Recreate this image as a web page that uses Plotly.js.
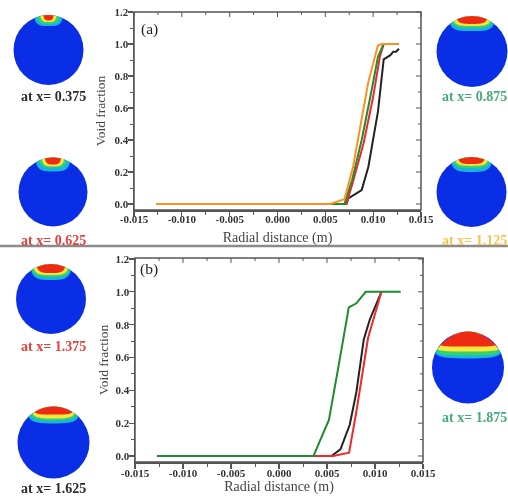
<!DOCTYPE html>
<html><head><meta charset="utf-8">
<script src="https://cdn.plot.ly/plotly-3.0.1.min.js"></script>
<style>html,body{margin:0;padding:0;background:#fff}#c{width:508px;height:500px;filter:blur(0.45px)}</style>
</head><body><div id="c"></div>
<script>
// Panel (a)
const a_black_x=[-0.0127,0.0072,0.0074,0.0088,0.0095,0.0100,0.0105,0.0111,0.0118,0.0121,0.0124,0.0127];
const a_black_y=[0,0,0.035,0.0875,0.233,0.42,0.577,0.904,0.93,0.952,0.952,0.97];
const a_red_x=[-0.0127,0.0072,0.0078,0.0090,0.0100,0.0107,0.0111,0.0113];
const a_red_y=[0,0,0.12,0.38,0.67,0.92,1,1];
const a_green_x=[-0.0127,0.0055,0.0070,0.0078,0.0088,0.0099,0.0105,0.0111,0.0113];
const a_green_y=[0,0,0,0.15,0.40,0.73,0.92,1,1];
const a_orange_x=[-0.0127,0.0055,0.0070,0.0079,0.0095,0.0105,0.0109,0.0127];
const a_orange_y=[0,0,0.03,0.233,0.765,0.99,1,1];
// Panel (b)
const b_black_x=[-0.0127,0.00546,0.0064,0.00737,0.00806,0.00883,0.00945,0.01067];
const b_black_y=[0,0,0.04,0.19,0.39,0.71,0.83,1];
const b_red_x=[-0.0127,0.00564,0.0073,0.00806,0.00928,0.0098,0.01067];
const b_red_y=[0,0,0.02,0.27,0.72,0.83,1];
const b_green_x=[-0.0127,0.0036,0.00425,0.0052,0.00616,0.00727,0.00806,0.00903,0.01268];
const b_green_y=[0,0,0.09,0.22,0.534,0.905,0.93,1,1];
// Cross-section labels
const diskLabels=['at x= 0.375','at x= 0.625','at x= 0.875','at x= 1.125','at x= 1.375','at x= 1.625','at x= 1.875'];
const labelColors=['#2b2b2b','#e0403a','#45ab78','#f4c453','#e8403a','#2b2b2b','#45ab78'];
const labelX=[53,53,474.5,474.5,53,53,474.5];
const labelY=[97,240,97,240,346,488,417];
const diskCx=[48.5,53,472,471.5,51,53.5,468];
const diskCy=[50,192,51.5,192,299,442.5,367.5];
const diskR=[35,34.5,35.5,35,35,36,36];
// Contour bands per disk: half-widths and depths below the top, outer band first
const bandColors=['#19b4dc','#35d070','#f5e83a','#ee2a12'];
const bandHalf=[[14,11,8,5],[17,14,11,8],[22,20,18,15],[20,18,16,13],[20,19,17,14],[25,23,21,19],[33,32,31,28]];
const bandDepth=[[11,9,7,5.5],[14,10,9,7],[15,12,10,8],[15,11,9,7],[16,13,11,9],[17,14,12,8],[27,24,20,15]];
const xTicks=[-0.015,-0.010,-0.005,0,0.005,0.010,0.015];
const xTickText=['-0.015','-0.010','-0.005','0.000','0.005','0.010','0.015'];
const yTicks=[0,0.2,0.4,0.6,0.8,1.0,1.2];
const yTickText=['0.0','0.2','0.4','0.6','0.8','1.0','1.2'];
const cBlack='#222222',cRed='#f0282a',cGreen='#1f8a2e',cOrange='#ff9020';

const W=508,H=500,px=x=>x/W,py=y=>1-y/H;
const serif='"Liberation Serif","Times New Roman",serif';
const frame='#555555';
const tickF={family:serif,size:11,color:'#333333',weight:700};
function mainX(d,anchor,standoff,lab){return {domain:d,range:[-0.015,0.015],anchor,tickmode:'array',tickvals:xTicks,ticktext:xTickText,ticks:'outside',ticklen:5,tickwidth:1.2,tickcolor:frame,ticklabelstandoff:lab,
  minor:{dtick:0.0025,ticks:'outside',ticklen:3,tickcolor:frame,tickwidth:1},showgrid:false,zeroline:false,showline:true,linecolor:frame,linewidth:1.5,tickfont:tickF,
  title:{text:'Radial distance (m)',font:{family:serif,size:14,color:'#444444'},standoff}};}
function mainY(d,anchor,range,standoff){return {domain:d,range,anchor,tickmode:'array',tickvals:yTicks,ticktext:yTickText,ticks:'outside',ticklen:5,tickwidth:1.2,tickcolor:frame,ticklabelstandoff:-3,
  minor:{dtick:0.1,ticks:'outside',ticklen:3,tickcolor:frame,tickwidth:1},showgrid:false,zeroline:false,showline:true,linecolor:frame,linewidth:1.5,tickfont:tickF,
  title:{text:'Void fraction',font:{family:serif,size:13.5,color:'#444444'},standoff}};}
function line(x,y,color,xa,ya){return {type:'scatter',mode:'lines',x,y,xaxis:xa,yaxis:ya,line:{color,width:2},hoverinfo:'skip',showlegend:false};}
const traces=[
 line(a_black_x,a_black_y,cBlack,'x','y'),line(a_red_x,a_red_y,cRed,'x','y'),line(a_green_x,a_green_y,cGreen,'x','y'),line(a_orange_x,a_orange_y,cOrange,'x','y'),
 line(b_black_x,b_black_y,cBlack,'x2','y2'),line(b_red_x,b_red_y,cRed,'x2','y2'),line(b_green_x,b_green_y,cGreen,'x2','y2')
];
const aDX=[px(134),px(421)],aDY=[py(210),py(12)],bDX=[px(135),px(423)],bDY=[py(462),py(258)];
const rangeA=[-0.0375,1.2],rangeB=[-0.0366,1.206];
function sideBox(x0,x1,y0,y1){
  return {type:'rect',xref:'paper',yref:'paper',x0:px(x0),x1:px(x1),y0:py(y0),y1:py(y1),line:{color:frame,width:1.5},layer:'above'};
}
const shapes=[sideBox(134,421,12,210),sideBox(135,423,258,462),
 {type:'line',xref:'paper',yref:'paper',x0:0,x1:1,y0:py(246),y1:py(246),line:{color:'#8a8a8a',width:2.5}}];
function innerTicks(xv,yv,x0,x1,y0,y1,yr){
  const sx=v=>x0+(v+0.015)/0.03*(x1-x0),sy=v=>y1-(v-yr[0])/(yr[1]-yr[0])*(y1-y0);
  xv.forEach((v,i)=>{const L=i%2==0?5:3;shapes.push({type:'line',xref:'paper',yref:'paper',x0:px(sx(v)),x1:px(sx(v)),y0:py(y0),y1:py(y0+L),line:{color:frame,width:1}})});
  yv.forEach((v,i)=>{const L=i%2==0?5:3;shapes.push({type:'line',xref:'paper',yref:'paper',x0:px(x1),x1:px(x1-L),y0:py(sy(v)),y1:py(sy(v)),line:{color:frame,width:1}})});
}
const xAll=[],yAll=[];
for(let i=0;i<=12;i++)xAll.push(-0.015+i*0.0025);
for(let i=0;i<=12;i++)yAll.push(i*0.1);
innerTicks(xAll,yAll,134,421,12,210,rangeA);
innerTicks(xAll,yAll,135,423,258,462,rangeB);
// disks
diskCx.forEach((cx,i)=>{
  const cy=diskCy[i],r=diskR[i];
  shapes.push({type:'circle',xref:'paper',yref:'paper',x0:px(cx-r),x1:px(cx+r),y0:py(cy-r),y1:py(cy+r),fillcolor:'#0a2ee6',line:{width:0}});
  const top=cy-r;
  bandHalf[i].forEach((w,j)=>{
    const chord=cy-Math.sqrt(r*r-w*w),bot=top+bandDepth[i][j];
    const P=(x,y)=>px(x).toFixed(5)+','+py(y).toFixed(5);
    const path='M'+P(cx-w,chord)
      +' C'+P(cx-w*0.9,bot)+' '+P(cx-w*0.5,bot)+' '+P(cx,bot)
      +' C'+P(cx+w*0.5,bot)+' '+P(cx+w*0.9,bot)+' '+P(cx+w,chord)
      +' Q'+P(cx,2*top-chord)+' '+P(cx-w,chord)+' Z';
    shapes.push({type:'path',xref:'paper',yref:'paper',path,fillcolor:bandColors[j],line:{width:0}});
  });
});
const ann=diskLabels.map((t,i)=>({xref:'paper',yref:'paper',x:px(labelX[i]),y:py(labelY[i]),text:'<b>'+t+'</b>',showarrow:false,xanchor:'center',yanchor:'middle',
  font:{family:serif,size:14,color:labelColors[i]}}));
ann.push({xref:'paper',yref:'paper',x:px(149),y:py(29),text:'(a)',showarrow:false,font:{family:serif,size:15.5,color:'#222'},xanchor:'center',yanchor:'middle'});
ann.push({xref:'paper',yref:'paper',x:px(149),y:py(269),text:'(b)',showarrow:false,font:{family:serif,size:15.5,color:'#222'},xanchor:'center',yanchor:'middle'});
const layout={width:W,height:H,margin:{l:0,r:0,t:0,b:0},paper_bgcolor:'#fff',plot_bgcolor:'#fff',showlegend:false,shapes,annotations:ann,
  xaxis:mainX(aDX,'y',8,-7),yaxis:mainY(aDY,'x',rangeA,6),
  xaxis2:mainX(bDX,'y2',2,-5),yaxis2:mainY(bDY,'x2',rangeB,4)};
Plotly.newPlot('c',traces,layout,{displayModeBar:false,staticPlot:true});
</script></body></html>
